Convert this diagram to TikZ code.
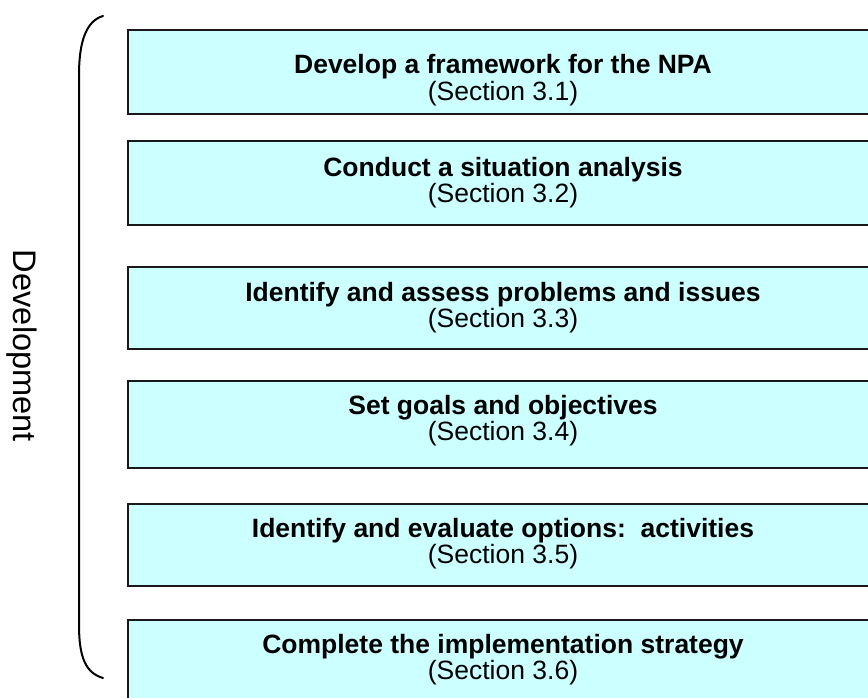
\documentclass[tikz,border=0pt]{standalone}
\usepackage{fontspec}
\setmainfont{Liberation Sans}
\definecolor{boxfill}{RGB}{204,255,255}
\begin{document}
\begin{tikzpicture}[x=1pt,y=-1pt,
  stepbox/.style={draw=black!90, line width=1.6pt, fill=boxfill, inner sep=0pt, anchor=north west, minimum width=760pt},
  title/.style={anchor=base, inner sep=0pt, font=\fontsize{26.5}{26.5}\selectfont\bfseries},
  secref/.style={anchor=base, inner sep=0pt, font=\fontsize{26.5}{26.5}\selectfont},
  brace/.style={line width=2pt, line cap=round}]
\useasboundingbox (0,0) rectangle (868,697);
\clip (0,0) rectangle (868,697);

% phase boxes (the right side runs past the page edge)
\node[stepbox, minimum height=84pt] (b1) at (127,29) {};
\node[stepbox, minimum height=84pt] (b2) at (127,140) {};
\node[stepbox, minimum height=82pt] (b3) at (127,266) {};
\node[stepbox, minimum height=87pt] (b4) at (127,380) {};
\node[stepbox, minimum height=82pt] (b5) at (127,503) {};
\node[stepbox, minimum height=100pt] (b6) at (127,619) {};

% box texts
\node[title] (t1) at (503,73.3) {Develop a framework for the NPA};
\node[secref] (s1) at (503,100) {(Section 3.1)};
\node[title] (t2) at (503,176) {Conduct a situation analysis};
\node[secref] (s2) at (503,202.7) {(Section 3.2)};
\node[title] (t3) at (503,301) {Identify and assess problems and issues};
\node[secref] (s3) at (503,327.7) {(Section 3.3)};
\node[title] (t4) at (503,414) {Set goals and objectives};
\node[secref] (s4) at (503,440.7) {(Section 3.4)};
\node[title] (t5) at (503,537) {Identify and evaluate options:\ \ activities};
\node[secref] (s5) at (503,563.7) {(Section 3.5)};
\node[title] (t6) at (503,653) {Complete the implementation strategy};
\node[secref] (s6) at (503,679.7) {(Section 3.6)};

% bracket grouping the development phase
\coordinate (btop) at (103,16);
\coordinate (bbot) at (103,678);
\draw[brace] (btop) .. controls (86,21) and (79,42) .. (79,75)
  -- (79,625) .. controls (79,658) and (86,673) .. (bbot);

\node[anchor=base, rotate=-90, inner sep=0pt, font=\fontsize{32.6}{32.6}\selectfont] (dev) at (13,346) {Development};
\end{tikzpicture}
\end{document}
